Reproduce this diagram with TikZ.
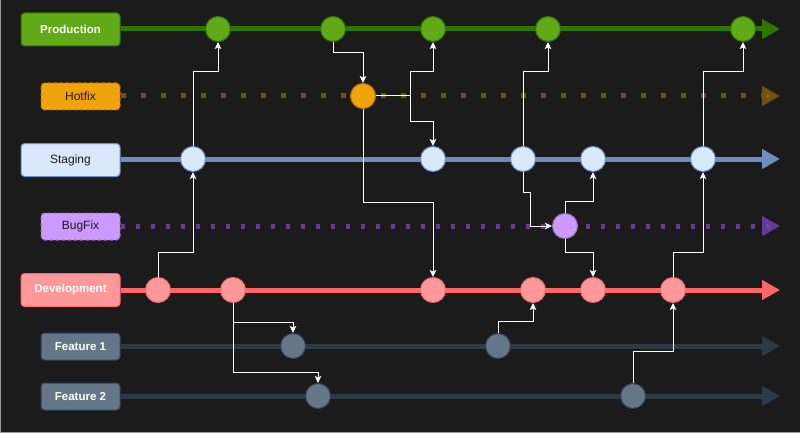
\documentclass[tikz,border=0pt]{standalone}
\usepackage{fontspec}
\setmainfont{Liberation Sans}
\usetikzlibrary{arrows.meta}
\definecolor{bg}{HTML}{1B1B1B}
\definecolor{frameC}{HTML}{9A9A9A}
\definecolor{prodFill}{HTML}{60A917}
\definecolor{prodLine}{HTML}{2D7600}
\definecolor{hotFill}{HTML}{F0A30A}
\definecolor{hotStroke}{HTML}{BD7000}
\definecolor{hotLine}{HTML}{74500F}
\definecolor{hotTip}{HTML}{9A640E}
\definecolor{stagFill}{HTML}{DAE8FC}
\definecolor{stagLine}{HTML}{6C8EBF}
\definecolor{bugFill}{HTML}{CC99FF}
\definecolor{bugStroke}{HTML}{9673A6}
\definecolor{bugLine}{HTML}{643C98}
\definecolor{bugTip}{HTML}{7A4CBA}
\definecolor{devFill}{HTML}{FF9999}
\definecolor{devStroke}{HTML}{F06A6A}
\definecolor{devLine}{HTML}{FF6666}
\definecolor{featFill}{HTML}{647687}
\definecolor{featStroke}{HTML}{314354}
\definecolor{featLine}{HTML}{2C3A48}
\definecolor{featTip}{HTML}{2F3E4D}
\definecolor{darkText}{HTML}{1A1A1A}
\begin{document}
\begin{tikzpicture}[x=1pt,y=-1pt,
  lanebox/.style={rounded corners=3.5pt, line width=1pt, inner sep=0pt, minimum width=99pt, minimum height=33pt},
  smallbox/.style={lanebox, minimum width=79pt, minimum height=27pt},
  boldlbl/.style={text=white, font=\fontsize{11.5}{13}\selectfont\bfseries},
  reglbl/.style={text=darkText, font=\fontsize{12}{14}\selectfont},
  commit/.style={circle, minimum size=25pt, inner sep=0pt, line width=1pt},
  lane/.style={line width=5pt, -{Triangle[length=18pt,width=19pt]}},
  conn/.style={white, line width=1pt, -{Stealth[length=7pt,width=6.5pt,inset=1.5pt]}},
]
\fill[bg] (0,0) rectangle (800,433);
\useasboundingbox (0,0) rectangle (800,433);
\draw[frameC, line width=1pt] (0.5,0) -- (0.5,432.5) -- (800,432.5);

% lane boxes
\node[lanebox, fill=prodFill, draw=prodLine, boldlbl] (prod) at (70.5,29.5) {Production};
\node[smallbox, fill=hotFill, draw=hotStroke, dashed, reglbl] (hot) at (80.5,96.5) {Hotfix};
\node[lanebox, fill=stagFill, draw=stagLine, reglbl] (stag) at (70.5,160) {Staging};
\node[smallbox, fill=bugFill, draw=bugStroke, dashed, reglbl] (bug) at (80.5,226.5) {BugFix};
\node[lanebox, fill=devFill, draw=devLine, boldlbl] (dev) at (70.5,290) {Development};
\node[smallbox, fill=featFill, draw=featStroke, boldlbl] (fa) at (80.5,346.5) {Feature 1};
\node[smallbox, fill=featFill, draw=featStroke, boldlbl] (fb) at (80.5,396.5) {Feature 2};

% lane ends
\coordinate (prodEnd) at (780,29);
\coordinate (hotEnd) at (780,96);
\coordinate (stagEnd) at (780,159);
\coordinate (bugEnd) at (780,226);
\coordinate (devEnd) at (780,290);
\coordinate (faEnd) at (780,346);
\coordinate (fbEnd) at (780,396);

% lanes
\draw[lane, prodLine] (prod.east |- prodEnd) -- (prodEnd);
\draw[lane, hotLine, dash pattern=on 5pt off 15pt, -{Triangle[length=18pt,width=19pt,fill=hotTip]}] (hot.east |- hotEnd) -- (hotEnd);
\draw[lane, stagLine] (stag.east |- stagEnd) -- (stagEnd);
\draw[lane, bugLine, dash pattern=on 4.5pt off 10.5pt, -{Triangle[length=18pt,width=19pt,fill=bugTip]}] (bug.east |- bugEnd) -- (bugEnd);
\draw[lane, devLine] (dev.east |- devEnd) -- (devEnd);
\draw[lane, featLine, -{Triangle[length=18pt,width=19pt,fill=featTip]}] (fa.east |- faEnd) -- (faEnd);
\draw[lane, featLine, -{Triangle[length=18pt,width=19pt,fill=featTip]}] (fb.east |- fbEnd) -- (fbEnd);

% commits
\foreach \n/\x in {p1/218,p2/333,p3/433,p4/548,p5/743}
  \node[commit, fill=prodFill, draw=prodLine] (\n) at (\x,29) {};
\node[commit, fill=hotFill, draw=hotStroke] (h1) at (363,96) {};
\foreach \n/\x in {s1/193,s2/433,s3/523,s4/593,s5/703}
  \node[commit, fill=stagFill, draw=stagLine] (\n) at (\x,159) {};
\node[commit, fill=bugFill, draw=bugStroke] (b1) at (565,226) {};
\foreach \n/\x in {d1/158,d2/233,d3/433,d4/533,d5/593,d6/673}
  \node[commit, fill=devFill, draw=devStroke] (\n) at (\x,290) {};
\foreach \n/\x in {f1/293,f2/498}
  \node[commit, fill=featFill, draw=featStroke] (\n) at (\x,346) {};
\foreach \n/\x in {g1/318,g2/633}
  \node[commit, fill=featFill, draw=featStroke] (\n) at (\x,396) {};

% connectors
\draw[conn] (d1.north) -- ++(0,-25) -| (s1.south);
\draw[conn] (s1.north) -- ++(0,-74) -| (p1.south);
\draw[conn] (p2.south) -- ++(0,10.5) -| (h1.north);
\draw[conn] (h1.east) -- ++(34.5,0) -- ++(0,-24) -| (p3.south);
\draw[conn] (h1.east) -- ++(34.5,0) -- ++(0,26) -| (s2.north);
\draw[conn] (h1.south) -- ++(0,93.5) -| (d3.north);
\draw[conn] (s3.north) -- ++(0,-74) -| (p4.south);
\draw[conn] (s3.south) -- ++(0,20.5) -- ++(7,0) |- (b1.west);
\draw[conn] (b1.north) -- ++(0,-11.5) -| (s4.south);
\draw[conn] (b1.south) -- ++(0,13.5) -| (d5.north);
\draw[conn] (d6.north) -- ++(0,-25) -| (s5.south);
\draw[conn] (s5.north) -- ++(0,-74) -| (p5.south);
\draw[conn] (d2.south) -- ++(0,19.5) -| (f1.north);
\draw[conn] (d2.south) -- ++(0,69.5) -| (g1.north);
\draw[conn] (f2.north) -- ++(0,-11.5) -| (d4.south);
\draw[conn] (g2.north) -- ++(0,-31.5) -| (d6.south);
\end{tikzpicture}
\end{document}
